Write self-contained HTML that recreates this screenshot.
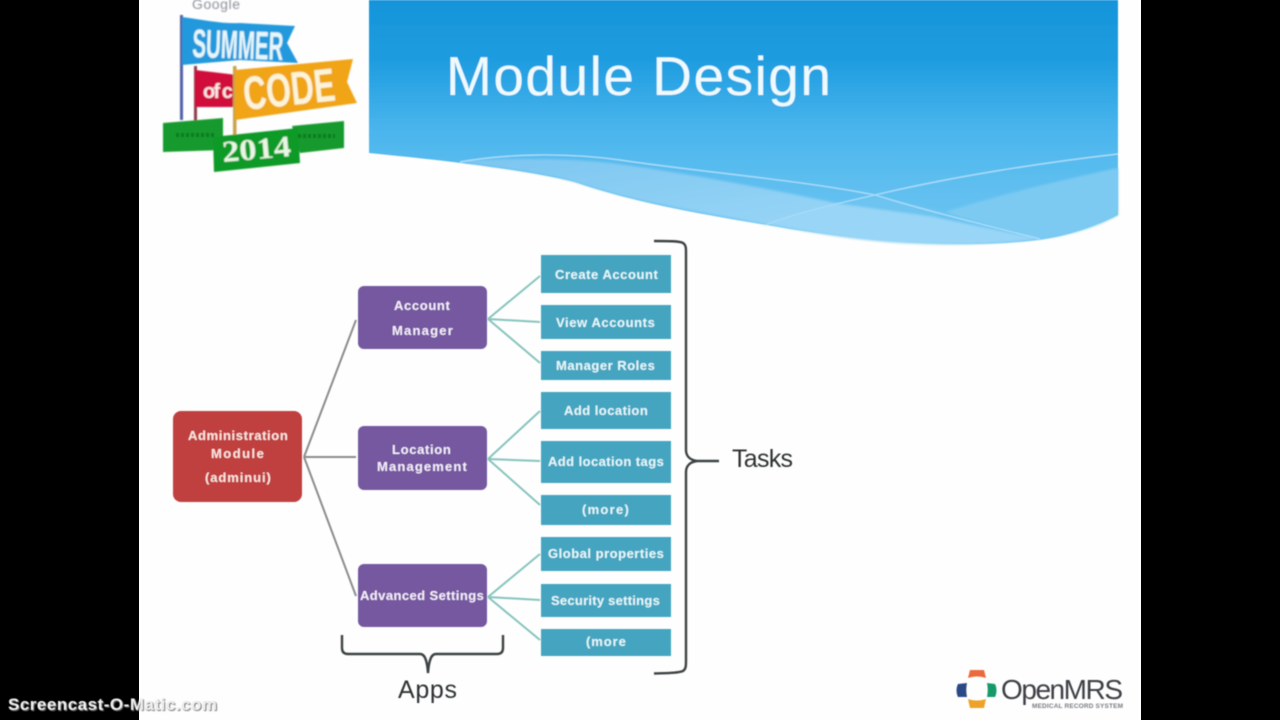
<!DOCTYPE html>
<html>
<head>
<meta charset="utf-8">
<style>
html,body{margin:0;padding:0;background:#000;width:1280px;height:720px;overflow:hidden}
svg{display:block}
text{font-family:"Liberation Sans",sans-serif}
.n{font-size:13px;font-weight:bold;fill:#f6eefb;letter-spacing:.2px}
</style>
</head>
<body>
<svg width="1280" height="720" viewBox="0 0 1280 720" xmlns="http://www.w3.org/2000/svg">
<defs>
<linearGradient id="sky" x1="0" y1="0" x2="0" y2="1">
<stop offset="0" stop-color="#1694da"/>
<stop offset=".25" stop-color="#1f9de0"/>
<stop offset=".53" stop-color="#4ab5ec"/>
<stop offset=".8" stop-color="#62c0f0"/>
<stop offset="1" stop-color="#6cc5f1"/>
</linearGradient>
<linearGradient id="band" x1="0" y1="0" x2="1" y2="1">
<stop offset="0" stop-color="#7cc6f1"/>
<stop offset="1" stop-color="#98d5f6"/>
</linearGradient>
<filter id="b" x="-5%" y="-5%" width="110%" height="110%"><feGaussianBlur stdDeviation=".55"/></filter>
<filter id="b2" x="-5%" y="-5%" width="110%" height="110%"><feGaussianBlur stdDeviation=".8"/></filter>
<filter id="b3" x="-5%" y="-5%" width="110%" height="110%"><feGaussianBlur stdDeviation="1"/></filter>
</defs>
<rect x="0" y="0" width="1280" height="720" fill="#000"/>
<rect x="139" y="0" width="1002" height="720" fill="#fefefe"/>

<g filter="url(#b)">
<!-- header -->
<path d="M369 0H1118V215C1090 229 1060 238 1030 241C960 248 880 243 790 229C720 217 640 205 575 182C525 170 460 162 369 153Z" fill="url(#sky)"/>
<g filter="url(#b3)">
<!-- lighter band -->
<path d="M460 162C500 157 570 158 610 163C680 172 760 187 835 203L765 224C700 212 640 203 575 182C540 172 500 168 460 162Z" fill="url(#band)"/>
<path d="M945 212C1000 195 1060 180 1118 168V215C1095 228 1065 236 1040 239C1010 230 975 222 945 212Z" fill="#7ccaf2"/>
<path d="M842 203L875 197L945 212L935 217Z" fill="#6dc4f0"/>
<path d="M765 224L835 203L935 217L1040 239C1000 244 960 246 900 243C850 240 810 232 765 224Z" fill="#98d5f6"/>
</g>
<!-- light lines -->
<path d="M460 162C510 153 570 153 620 160C700 172 800 180 875 195C930 212 990 226 1040 239" fill="none" stroke="#a8dcf9" stroke-width="1.4"/>
<path d="M765 225C800 212 835 204 875 195C950 177 1040 163 1118 154" fill="none" stroke="#a8dcf9" stroke-width="1.4"/>
<!-- title -->
<text x="446" y="95" font-size="55" fill="#eefaff" textLength="385">Module Design</text>

<!-- connectors -->
<g fill="none" stroke="#8c8c8c" stroke-width="2">
<path d="M304 457L356 320M304 457H356M304 457L356 596"/>
</g>
<g fill="none" stroke="#86c4bd" stroke-width="2">
<path d="M488 319L540 276M488 319L540 322M488 319L540 363"/>
<path d="M488 459L540 411M488 459L540 461M488 459L540 505"/>
<path d="M488 597L540 554M488 597L540 600M488 597L540 640"/>
</g>

<!-- nodes -->
<rect x="173" y="411" width="129" height="91" rx="8" fill="#c0403f"/>
<g fill="#7559a0">
<rect x="358" y="286" width="129" height="63" rx="6"/>
<rect x="358" y="426" width="129" height="64" rx="6"/>
<rect x="358" y="564" width="129" height="63" rx="6"/>
</g>
<g fill="#44a5c0">
<rect x="541" y="255" width="130" height="38"/>
<rect x="541" y="305" width="130" height="34"/>
<rect x="541" y="351" width="130" height="29"/>
<rect x="541" y="392" width="130" height="37"/>
<rect x="541" y="441" width="130" height="42"/>
<rect x="541" y="495" width="130" height="30"/>
<rect x="541" y="537" width="130" height="34"/>
<rect x="541" y="584" width="130" height="33"/>
<rect x="541" y="629" width="130" height="27"/>
</g>

<!-- node text -->
<g>
<text class="n" x="188" y="440" textLength="100" style="fill:#fbe6e0">Administration</text>
<text class="n" x="211" y="458" textLength="53" style="fill:#fbe6e0">Module</text>
<text class="n" x="205" y="482" textLength="66" style="fill:#fbe6e0">(adminui)</text>
<text class="n" x="394" y="310" textLength="56">Account</text>
<text class="n" x="392" y="335" textLength="61">Manager</text>
<text class="n" x="392" y="454" textLength="59">Location</text>
<text class="n" x="377" y="471" textLength="90">Management</text>
<text class="n" x="360" y="600" textLength="124">Advanced Settings</text>
<text class="n" x="555" y="279" textLength="103" style="fill:#e6f8fc">Create Account</text>
<text class="n" x="556" y="327" textLength="99" style="fill:#e6f8fc">View Accounts</text>
<text class="n" x="556" y="370" textLength="99" style="fill:#e6f8fc">Manager Roles</text>
<text class="n" x="564" y="415" textLength="84" style="fill:#e6f8fc">Add location</text>
<text class="n" x="548" y="466" textLength="116" style="fill:#e6f8fc">Add location tags</text>
<text class="n" x="582" y="514" textLength="47" style="fill:#e6f8fc">(more)</text>
<text class="n" x="548" y="558" textLength="116" style="fill:#e6f8fc">Global properties</text>
<text class="n" x="551" y="605" textLength="109" style="fill:#e6f8fc">Security settings</text>
<text class="n" x="586" y="646" textLength="40" style="fill:#e6f8fc">(more</text>
</g>

<!-- braces -->
<g fill="none" stroke="#3c4242" stroke-width="2.4">
<path d="M654 241C668 241 680 241 683 243C686 245 686 248 686 252V450C686 456 690 460 697 461H719M697 461C690 462 686 466 686 472V660C686 666 686 669 683 671C678 673 668 673 654 673.5"/>
<path d="M342 635V648C342 652 344 654 348 654H420C424 654 427 658 428 673C429 658 432 654 436 654H497C501 654 503 652 503 648V635"/>
</g>
<text x="732" y="467" font-size="25" fill="#2e3333" textLength="61">Tasks</text>
<text x="398" y="698" font-size="25" fill="#2e3333" textLength="59">Apps</text>
</g>

<!-- GSoC logo -->
<g filter="url(#b2)">
<text x="192" y="9" font-size="14" fill="#8a8f96" textLength="48">Google</text>
<rect x="180" y="15" width="3" height="105" fill="#4f5ea8"/>
<rect x="194" y="66" width="3" height="55" fill="#8f3a48"/>
<path d="M182 17C205 20 222 24 240 23L295 26L287 43L298 63L240 60L182 65Z" fill="#2399dc"/>
<text x="192" y="57" font-size="40" font-weight="bold" fill="#e6f7fb" textLength="91" lengthAdjust="spacingAndGlyphs" transform="rotate(2 192 57)">SUMMER</text>
<path d="M195 70L237 75V107H195Z" fill="#d0103a"/>
<text x="203" y="98" font-size="20" font-weight="bold" fill="#fbe8e8" textLength="30">of c</text>
<rect x="233" y="66" width="3.5" height="72" fill="#c9a24a"/>
<path d="M235 70L353 59L347 82L357 103L235 120Z" fill="#f0a413"/>
<text x="245" y="110" font-size="47" font-weight="bold" fill="#fdf4d8" textLength="92" lengthAdjust="spacingAndGlyphs" transform="rotate(-6 245 110)">CODE</text>
<path d="M163 123L223 118V150L163 152Z" fill="#169a2e"/>
<path d="M292 126L344 121V148L300 153Z" fill="#169a2e"/>
<path d="M213 137L298 128L300 163L214 172Z" fill="#0f9a28"/>
<text x="223" y="162" font-size="30" font-weight="bold" fill="#e8f6e4" textLength="69" lengthAdjust="spacingAndGlyphs" transform="rotate(-5 223 162)" style='font-family:"Liberation Serif",serif'>2014</text>
<path d="M176 135H215M298 136H335" stroke="#0d7a22" stroke-width="4" stroke-dasharray="3 2" fill="none"/>
</g>

<!-- OpenMRS logo -->
<g filter="url(#b)">
<path d="M968 678L970 670H984L986 678C980 676 974 676 968 678Z" fill="#ea6a3c"/>
<path d="M967 683L958 684C956 688 956 693 958 697L967 697C966 692 966 688 967 683Z" fill="#2c4a86"/>
<path d="M987 683L995 684C997 688 997 693 995 697L987 697C988 692 988 688 987 683Z" fill="#159a6c"/>
<path d="M968 699C974 701 980 701 986 699L984 708H970Z" fill="#eda32a"/>
<text x="1001" y="699" font-size="28" fill="#3c3f45" textLength="122">OpenMRS</text>
<text x="1032" y="708" font-size="6.5" font-weight="bold" fill="#7a7c80" textLength="91">MEDICAL RECORD SYSTEM</text>
</g>

<!-- watermark -->
<text x="9" y="711" font-size="17" font-weight="bold" fill="#777" textLength="209" filter="url(#b2)">Screencast-O-Matic.com</text>
<text x="8" y="710" font-size="17" font-weight="bold" fill="#f2f2f2" textLength="209" filter="url(#b)">Screencast-O-Matic.com</text>
</svg>
</body>
</html>
